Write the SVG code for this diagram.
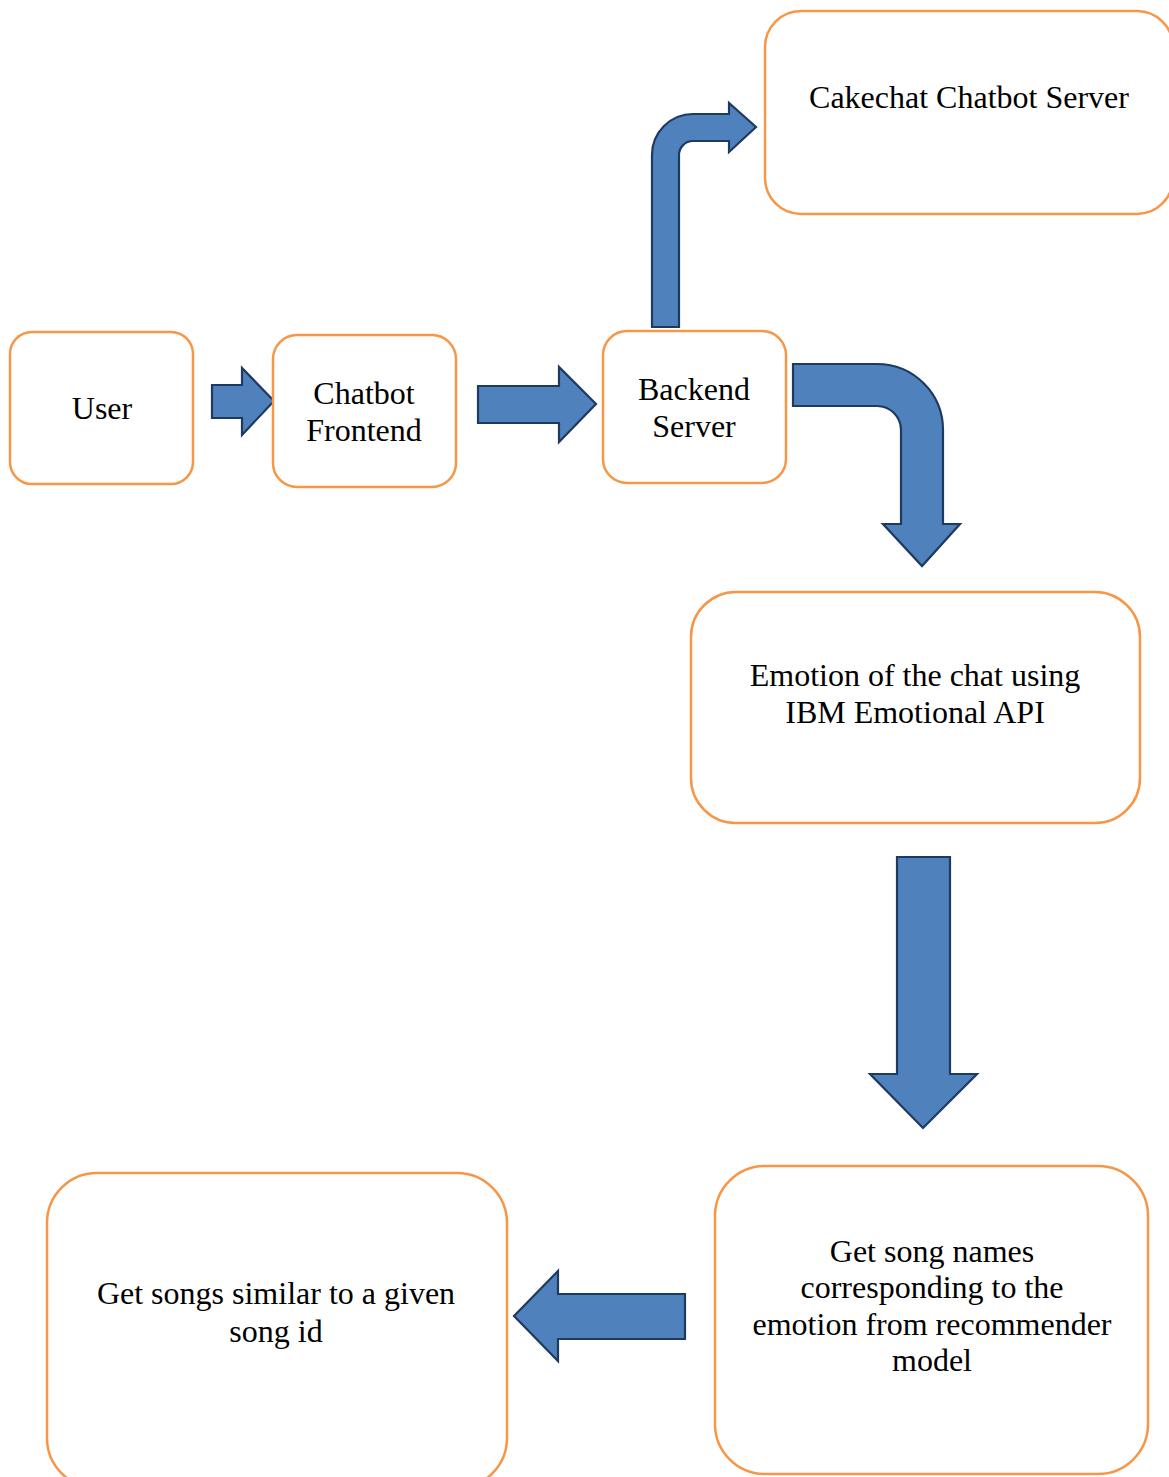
<svg xmlns="http://www.w3.org/2000/svg" width="1169" height="1477" viewBox="0 0 1169 1477">
<style>
.box{fill:#FFFFFF;stroke:#F79646;stroke-width:2.5}
.arrow{fill:#4F81BD;stroke:#1F3A60;stroke-width:2.2;stroke-linejoin:miter}
.lbl{font-family:"Liberation Serif","Times New Roman",serif;font-size:32px;fill:#000000;text-anchor:middle}
</style>
<rect x="0" y="0" width="1169" height="1477" fill="#FFFFFF"/>
<g id="connectors">
<path class="arrow" d="M212,385 L242,385 L242,368 L274,401 L242,435 L242,418 L212,418 Z"/>
<path class="arrow" d="M478,386 L559,386 L559,367 L596,404 L559,442 L559,423 L478,423 Z"/>
<path class="arrow" d="M652,327 L652,155 A41,41 0 0 1 693,114 L729,114 L729,103 L756,127 L729,152 L729,141 L693,141 A14,14 0 0 0 679,155 L679,327 Z"/>
<path class="arrow" d="M793,364 L877,364 A66,66 0 0 1 943,430 L943,524 L960,524 L922,566 L883,524 L901,524 L901,430 A24,24 0 0 0 877,406 L793,406 Z"/>
<path class="arrow" d="M897,857 L950,857 L950,1074 L977,1074 L923,1128 L870,1074 L897,1074 Z"/>
<path class="arrow" d="M685,1294 L558,1294 L558,1271 L514,1316 L558,1361 L558,1339 L685,1339 Z"/>
</g>
<g id="user">
<rect class="box" x="10" y="332" width="183" height="152" rx="22"/>
<text class="lbl" x="102" y="419">User</text>
</g>
<g id="chatbot-frontend">
<rect class="box" x="273" y="335" width="183" height="152" rx="24"/>
<text class="lbl" x="364" y="404">Chatbot</text>
<text class="lbl" x="364" y="441">Frontend</text>
</g>
<g id="backend-server">
<rect class="box" x="603" y="331" width="183" height="152" rx="24"/>
<text class="lbl" x="694" y="400">Backend</text>
<text class="lbl" x="694" y="437">Server</text>
</g>
<g id="cakechat">
<rect class="box" x="765" y="11" width="408" height="203" rx="36"/>
<text class="lbl" x="969" y="108">Cakechat Chatbot Server</text>
</g>
<g id="emotion">
<rect class="box" x="691" y="592" width="449" height="231" rx="45"/>
<text class="lbl" x="915" y="686">Emotion of the chat using</text>
<text class="lbl" x="915" y="723">IBM Emotional API</text>
</g>
<g id="song-names">
<rect class="box" x="715" y="1166" width="433" height="308" rx="50"/>
<text class="lbl" x="932" y="1262">Get song names</text>
<text class="lbl" x="932" y="1298">corresponding to the</text>
<text class="lbl" x="932" y="1335">emotion from recommender</text>
<text class="lbl" x="932" y="1371">model</text>
</g>
<g id="similar-songs">
<rect class="box" x="47" y="1173" width="460" height="315" rx="50"/>
<text class="lbl" x="276" y="1304">Get songs similar to a given</text>
<text class="lbl" x="276" y="1342">song id</text>
</g>
</svg>
